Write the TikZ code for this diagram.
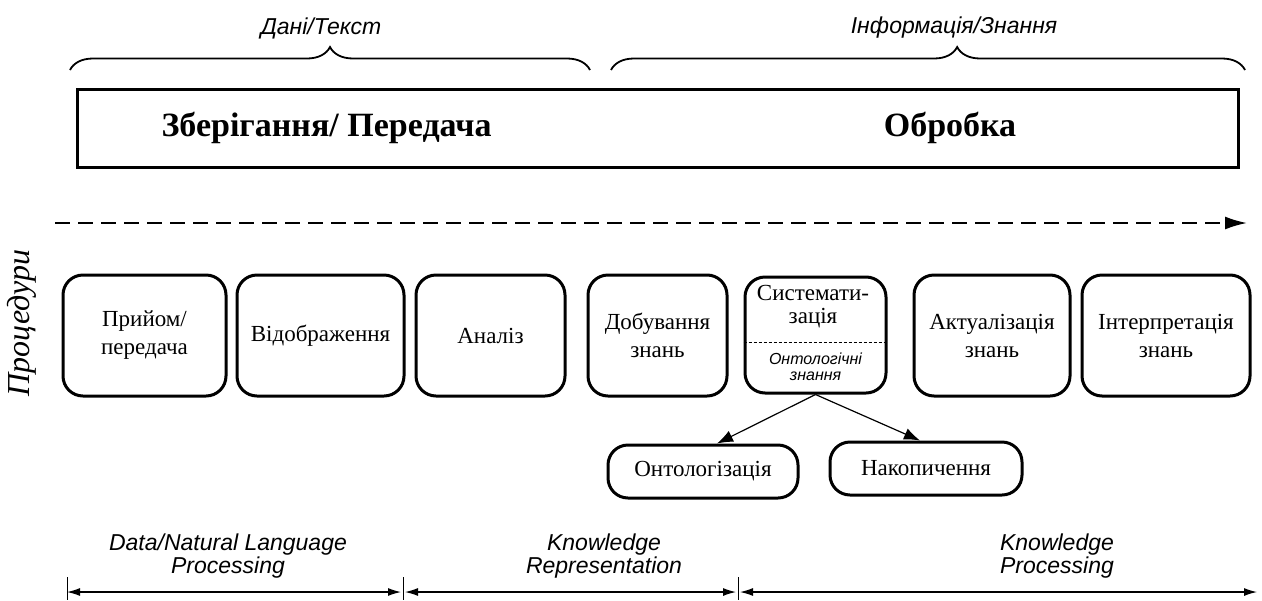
\documentclass[tikz,border=0pt]{standalone}
\usepackage{fontspec}
\setmainfont{Liberation Serif}
\setsansfont{Liberation Sans}
\usetikzlibrary{decorations.pathreplacing,arrows.meta}
\begin{document}
\begin{tikzpicture}[
    x=0.5pt, y=-0.5pt,
    every node/.style={inner sep=2pt},
    proc/.style={draw, line width=1.5pt, rounded corners=10pt, align=center,
        font=\fontsize{11.5}{14}\selectfont, minimum height=60.5pt},
    leaf/.style={draw, line width=1.5pt, rounded corners=10pt,
        font=\fontsize{11.5}{14}\selectfont, minimum height=26.5pt},
    lbl/.style={font=\sffamily\itshape\fontsize{11.5}{9.5}\selectfont, align=center},
    big/.style={font=\bfseries\fontsize{17}{20}\selectfont},
    brc/.style={decorate, decoration={brace, amplitude=11.5pt}, line width=0.9pt},
    dim/.style={{Latex[length=6.5pt,width=4pt]}-{Latex[length=6.5pt,width=4pt]}, line width=0.6pt}
]
\useasboundingbox (0,0) rectangle (1262,600);

\node[lbl] (data) at (321,28) {Дані/Текст};
\node[lbl] (info) at (954,28) {Інформація/Знання};
\draw[brc] (70,70) -- (590,70);
\draw[brc, decoration={aspect=0.546}] (611,70) -- (1245,70);

\node[draw, line width=1.5pt, minimum width=580.5pt, minimum height=39pt] (stage) at (657.5,128) {};
\node[big] (store) at (326.5,128) {Зберігання/ Передача};
\node[big] (proc) at (950,128) {Обробка};

\coordinate (flow0) at (55,223);
\coordinate (flow1) at (1247,223);
\draw[dash pattern=on 7.5pt off 4pt, line width=1pt, -{Latex[length=11pt,width=6.5pt]}] (flow0) -- (flow1);

\node[rotate=90, font=\itshape\fontsize{16}{18}\selectfont] (steps) at (22,323) {Процедури};

\node[proc, minimum width=81.5pt] (recv) at (144.5,335.5) {Прийом/\\передача};
\node[proc, minimum width=83.5pt] (disp) at (320.5,335.5) {Відображення};
\node[proc, minimum width=74.5pt] (anal) at (490.5,335.5) {Аналіз};
\node[proc, minimum width=69.5pt] (mine) at (657.5,335.5) {Добування\\знань};
\node[proc, minimum width=70.5pt, minimum height=58pt] (sys) at (815.5,335) {};
\node[proc, minimum width=78pt] (actu) at (992,335.5) {Актуалізація\\знань};
\node[proc, minimum width=84pt] (intp) at (1166,335.5) {Інтерпретація\\знань};

\node[font=\fontsize{11.5}{11.5}\selectfont, align=center] (systxt) at (813,307) {Системати-\\зація};
\draw[dash pattern=on 1.5pt off 1pt, line width=0.4pt] (sys.west |- 0,342) -- (sys.east |- 0,342);
\node[font=\sffamily\itshape\fontsize{8}{8}\selectfont, align=center] (onto) at (815.5,367) {Онтологічні\\знання};

\node[leaf, minimum width=95pt] (ontz) at (703,471.5) {Онтологізація};
\node[leaf, minimum width=96pt] (accu) at (926,468.5) {Накопичення};

\draw[line width=0.6pt, -{Latex[length=8pt,width=6pt]}] (sys.south) -- ([xshift=7pt]ontz.north);
\draw[line width=0.6pt, -{Latex[length=8pt,width=6pt]}] (sys.south) -- ([xshift=-3pt]accu.north);

\node[lbl] (nlp) at (228,556) {Data/Natural Language\\Processing};
\node[lbl] (krep) at (604,556) {Knowledge\\Representation};
\node[lbl] (kproc) at (1057,556) {Knowledge\\Processing};

\coordinate (t0) at (67,592);
\coordinate (t1) at (403,592);
\coordinate (t2) at (738,592);
\coordinate (t3) at (1257,592);
\foreach \t in {t0,t1,t2}
    \draw[line width=0.4pt] ([yshift=7.5pt]\t) -- ([yshift=-4pt]\t);
\draw[dim] (t0) -- ([xshift=-1pt]t1);
\draw[dim] ([xshift=1pt]t1) -- ([xshift=-1pt]t2);
\draw[dim] ([xshift=1pt]t2) -- (t3);
\end{tikzpicture}
\end{document}
